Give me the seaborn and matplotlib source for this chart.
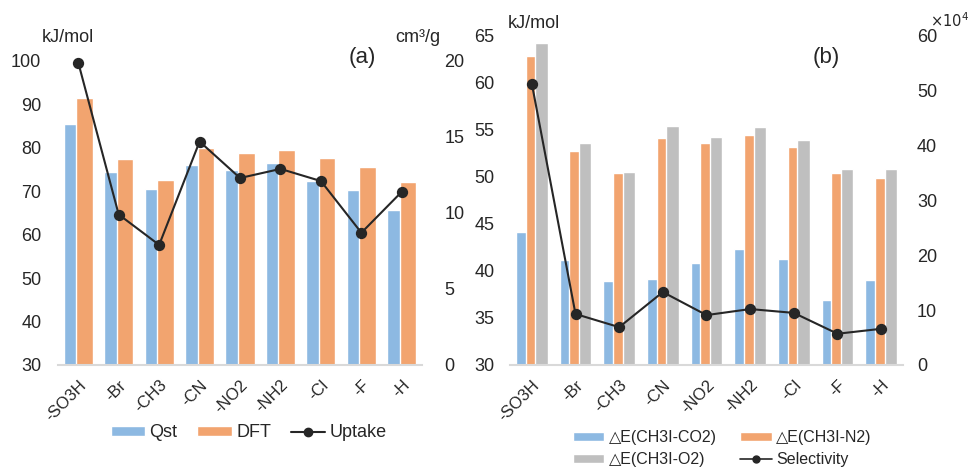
import matplotlib
matplotlib.use("Agg")
import matplotlib.pyplot as plt
import seaborn as sns
import pandas as pd
from matplotlib.lines import Line2D
from matplotlib.patches import Patch

groups = ['-SO3H', '-Br', '-CH3', '-CN', '-NO2', '-NH2', '-Cl', '-F', '-H']
qst = [85.5, 74.5, 70.5, 76.0, 75.0, 76.5, 72.4, 70.3, 65.7]
dft = [91.4, 77.4, 72.6, 80.0, 78.8, 79.5, 77.6, 75.5, 72.2]
uptake = [19.9, 9.9, 7.9, 14.7, 12.3, 12.9, 12.1, 8.7, 11.4]
de_co2 = [44.2, 41.2, 38.9, 39.1, 40.8, 42.3, 41.3, 36.9, 39.0]
de_n2 = [62.9, 52.8, 50.4, 54.1, 53.6, 54.5, 53.2, 50.4, 49.9]
de_o2 = [64.3, 53.6, 50.5, 55.4, 54.3, 55.3, 53.9, 50.9, 50.8]
selectivity = [51.3, 9.3, 6.9, 13.3, 9.1, 10.2, 9.5, 5.7, 6.6]

left_series = ['Qst', 'DFT']
right_series = ['\u25b3E(CH3I-CO2)', '\u25b3E(CH3I-N2)', '\u25b3E(CH3I-O2)']

BLUE = '#8DB9E2'
ORANGE = '#F2A46F'
GRAY = '#BFBFBF'
LINE = '#262626'
TXT = '#262626'

sns.set_style('white')
plt.rcParams['font.family'] = ['Liberation Sans', 'DejaVu Sans']

fig = plt.figure(figsize=(9.72, 4.68), dpi=100)
ax1 = fig.add_axes([0.0597, 0.2201, 0.3745, 0.6496])
ax2 = fig.add_axes([0.5247, 0.2201, 0.4043, 0.7030])

df1 = pd.DataFrame({'group': groups * 2,
                    'series': [left_series[0]] * 9 + [left_series[1]] * 9,
                    'value': qst + dft})
sns.barplot(data=df1, x='group', y='value', hue='series', palette=[BLUE, ORANGE],
            width=0.62, gap=-0.32, saturation=1, errorbar=None, legend=False, ax=ax1)
ax1b = ax1.twinx()
sns.pointplot(x=groups, y=uptake, color=LINE, markers='o', markersize=7,
              linewidth=1.5, errorbar=None, ax=ax1b)

df2 = pd.DataFrame({'group': groups * 3,
                    'series': [right_series[0]] * 9 + [right_series[1]] * 9 + [right_series[2]] * 9,
                    'value': de_co2 + de_n2 + de_o2})
sns.barplot(data=df2, x='group', y='value', hue='series', palette=[BLUE, ORANGE, GRAY],
            width=0.66, gap=-0.3, saturation=1, errorbar=None, legend=False, ax=ax2)
ax2b = ax2.twinx()
sns.pointplot(x=groups, y=selectivity, color=LINE, markers='o', markersize=7,
              linewidth=1.5, errorbar=None, ax=ax2b)

def style(ax, axb, ylim, yticks, ylimb, yticksb, padl, padr):
    ax.set_ylim(*ylim)
    ax.set_yticks(yticks)
    axb.set_ylim(*ylimb)
    axb.set_yticks(yticksb)
    ax.set_xlim(-0.5, 8.5)
    for a in (ax, axb):
        a.set_xlabel('')
        a.set_ylabel('')
        for s in a.spines.values():
            s.set_visible(False)
        a.grid(False)
    for art in axb.lines + list(axb.collections):
        art.set_clip_on(False)
    ax.spines['bottom'].set_visible(True)
    ax.spines['bottom'].set_color('#D9D9D9')
    ax.spines['bottom'].set_linewidth(1.5)
    ax.tick_params(axis='y', length=0, pad=padl, labelsize=13, labelcolor=TXT)
    axb.tick_params(axis='y', length=0, pad=padr, labelsize=13, labelcolor=TXT)
    ax.tick_params(axis='x', length=0, pad=9, labelsize=12, labelcolor=TXT)
    ax.set_xticks(range(len(groups)))
    ax.set_xticklabels(groups, rotation=45, ha='right', rotation_mode='anchor')

style(ax1, ax1b, (30, 100), range(30, 101, 10), (0, 20), range(0, 21, 5), 12, 16)
style(ax2, ax2b, (30, 65), range(30, 66, 5), (0, 60), range(0, 61, 10), 11, 10)

# legends
h1 = [Patch(facecolor=BLUE), Patch(facecolor=ORANGE),
      Line2D([], [], color=LINE, marker='o', markersize=6, lw=1.5)]
fig.legend(h1, left_series + ['Uptake'], loc='center', bbox_to_anchor=(0.256, 0.075),
           ncol=3, frameon=False, fontsize=13, handlelength=1.9, handleheight=0.45,
           handletextpad=0.25, columnspacing=1.1, labelcolor=TXT)

h2 = [Patch(facecolor=BLUE), Patch(facecolor=GRAY), Patch(facecolor=ORANGE),
      Line2D([], [], color=LINE, marker='o', markersize=5, lw=1.2)]
l2 = [right_series[0], right_series[2], right_series[1], 'Selectivity']
fig.legend(h2, l2, loc='center', bbox_to_anchor=(0.743, 0.041), ncol=2, frameon=False,
           fontsize=11.5, handlelength=2.0, handleheight=0.45, handletextpad=0.3,
           columnspacing=1.4, labelspacing=0.45, labelcolor=TXT)

# annotations
fig.text(68 / 972, 1 - 38 / 468, 'kJ/mol', ha='center', va='center', fontsize=13, color=TXT)
fig.text(418 / 972, 1 - 38 / 468, 'cm\u00b3/g', ha='center', va='center', fontsize=13, color=TXT)
fig.text(362 / 972, 1 - 58 / 468, '(a)', ha='center', va='center', fontsize=16, color=TXT)
fig.text(534 / 972, 1 - 24 / 468, 'kJ/mol', ha='center', va='center', fontsize=13, color=TXT)
fig.text(826 / 972, 1 - 58 / 468, '(b)', ha='center', va='center', fontsize=16, color=TXT)
fig.text(969 / 972, 1 - 21 / 468, r'$\times$10$^4$', ha='right', va='center', fontsize=10.5,
         color=TXT, family=['DejaVu Sans'])

fig.savefig('out.png', dpi=100)
